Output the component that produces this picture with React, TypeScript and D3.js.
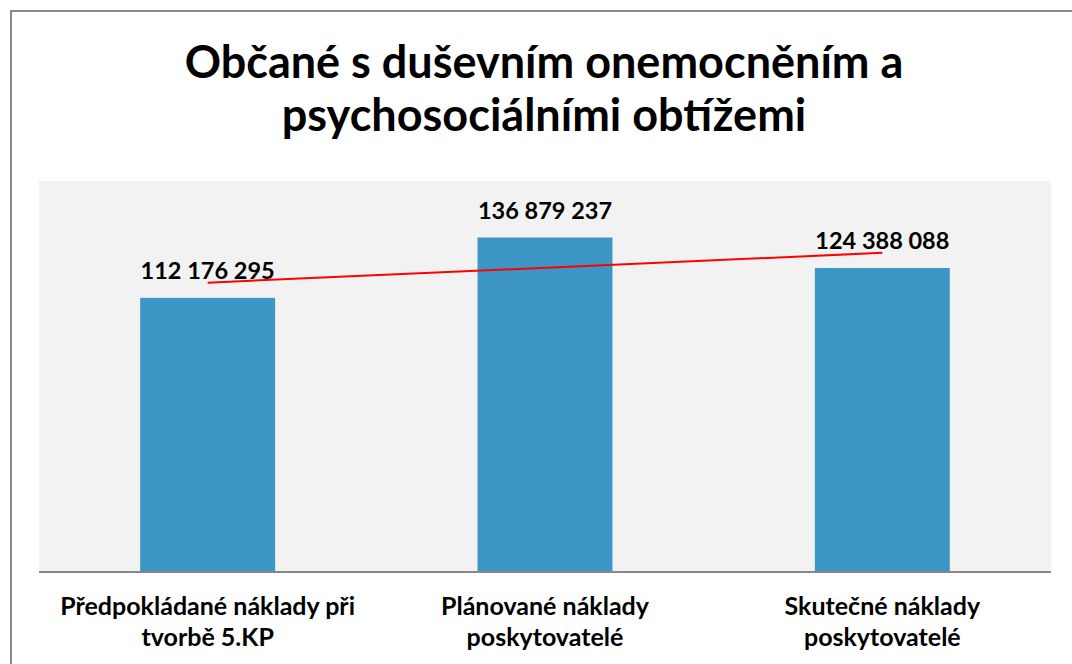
import { useEffect, useRef } from "react";
import * as d3 from "d3";

const titleLines = ["Občané s duševním onemocněním a", "psychosociálními obtížemi"];
const categories = [
  ["Předpokládané náklady při", "tvorbě 5.KP"],
  ["Plánované náklady", "poskytovatelé"],
  ["Skutečné náklady", "poskytovatelé"],
];
const values = [112176295, 136879237, 124388088];
// linear trendline, end points
const trendValues = [118400000, 130600000];
const yMax = 160000000;

const FONT = "Lato, 'Open Sans', sans-serif";

const App = () => {
  const ref = useRef<SVGSVGElement | null>(null);

  useEffect(() => {
    const W = 1072,
      H = 664;
    const plot = { left: 39, right: 1051, top: 181, bottom: 572 };

    const svg = d3.select(ref.current);
    svg.selectAll("*").remove();

    // outer frame
    svg
      .append("rect")
      .attr("x", 11)
      .attr("y", 11)
      .attr("width", W + 40)
      .attr("height", H + 40)
      .attr("fill", "#fff")
      .attr("stroke", "#898989")
      .attr("stroke-width", 2);

    // title
    svg
      .append("text")
      .attr("text-anchor", "middle")
      .attr("font-family", FONT)
      .attr("font-weight", 700)
      .attr("font-size", 45)
      .attr("fill", "#000")
      .selectAll("tspan")
      .data(titleLines)
      .join("tspan")
      .attr("x", 544)
      .attr("y", (d, i) => 78 + i * 53)
      .text((d) => d);

    // plot background
    svg
      .append("rect")
      .attr("x", plot.left)
      .attr("y", plot.top)
      .attr("width", plot.right - plot.left)
      .attr("height", plot.bottom - plot.top)
      .attr("fill", "#f2f2f2");

    const x = d3
      .scaleBand<number>()
      .domain(d3.range(values.length))
      .range([plot.left, plot.right])
      .paddingInner(0.6)
      .paddingOuter(0.3);

    const y = d3.scaleLinear().domain([0, yMax]).range([plot.bottom, plot.top]);

    // bars
    svg
      .append("g")
      .selectAll("rect")
      .data(values)
      .join("rect")
      .attr("x", (d, i) => x(i)!)
      .attr("y", (d) => y(d))
      .attr("width", x.bandwidth())
      .attr("height", (d) => y(0) - y(d))
      .attr("fill", "#3c96c6");

    // x axis line
    svg
      .append("line")
      .attr("x1", plot.left)
      .attr("x2", plot.right)
      .attr("y1", y(0))
      .attr("y2", y(0))
      .attr("stroke", "#878787")
      .attr("stroke-width", 2);

    // category labels
    const cat = svg
      .append("g")
      .attr("font-family", FONT)
      .attr("font-weight", 700)
      .attr("font-size", 25)
      .attr("text-anchor", "middle")
      .attr("fill", "#000");
    categories.forEach((lines, i) => {
      const cx = x(i)! + x.bandwidth() / 2;
      cat
        .append("text")
        .selectAll("tspan")
        .data(lines)
        .join("tspan")
        .attr("x", cx)
        .attr("y", (d, j) => 615 + j * 31)
        .text((d) => d);
    });

    // value labels
    const fmt = (v: number) => d3.format(",")(v).replace(/,/g, " ");
    svg
      .append("g")
      .selectAll("text")
      .data(values)
      .join("text")
      .attr("x", (d, i) => x(i)! + x.bandwidth() / 2)
      .attr("y", (d) => y(d) - 19)
      .attr("text-anchor", "middle")
      .attr("font-family", FONT)
      .attr("font-weight", 700)
      .attr("font-size", 23.5)
      .attr("fill", "#000")
      .text((d) => fmt(d));

    // trendline
    const ends = [0, values.length - 1];
    svg
      .append("path")
      .datum(trendValues)
      .attr("fill", "none")
      .attr("stroke", "#ff0000")
      .attr("stroke-width", 2)
      .attr(
        "d",
        d3
          .line<number>()
          .x((d, i) => x(ends[i])! + x.bandwidth() / 2)
          .y((d) => y(d))
      );
  }, []);

  return (
    <svg
      ref={ref}
      width={1072}
      height={664}
      style={{ position: "absolute", left: 0, top: 0, display: "block" }}
    />
  );
};

export default App;
